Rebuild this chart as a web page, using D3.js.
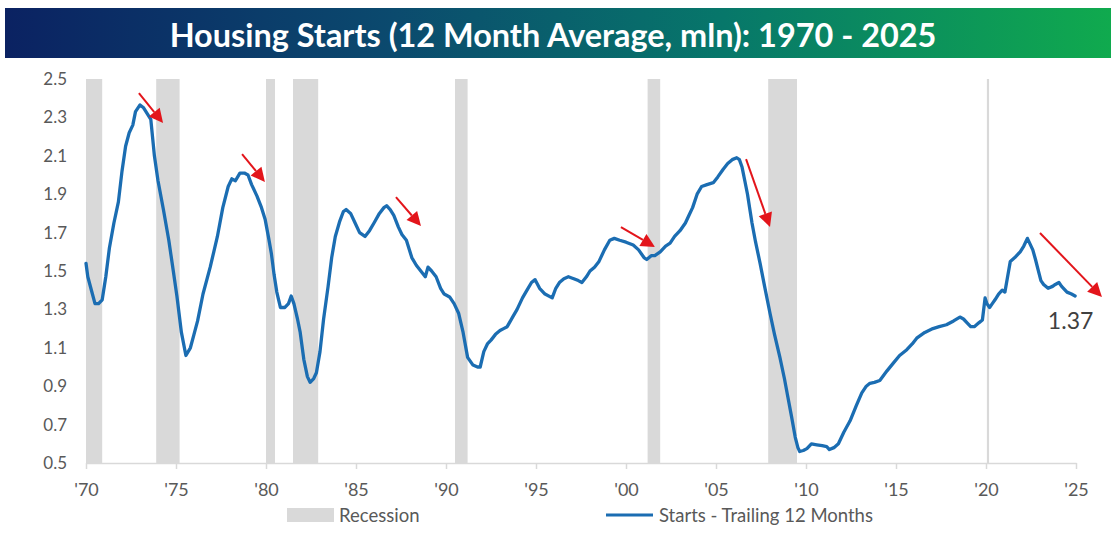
<!DOCTYPE html>
<html>
<head>
<meta charset="utf-8">
<script src="https://cdn.jsdelivr.net/npm/d3@7"></script>
<style>
  html, body { margin: 0; padding: 0; background: #ffffff; }
  svg { display: block; }
  text { font-family: Lato, "Open Sans", "Liberation Sans", sans-serif; }
</style>
</head>
<body>
<svg id="chart" width="1116" height="536"></svg>
<script>
// ---------------- DATA ----------------
const titleText = "Housing Starts (12 Month Average, mln): 1970 - 2025";

const years = [
  1970.0,1970.1,1970.3,1970.5,1970.7,1970.9,1971.1,1971.3,1971.55,1971.8,
  1972.0,1972.2,1972.4,1972.6,1972.75,1973.0,1973.2,1973.4,1973.6,1973.8,
  1974.0,1974.3,1974.6,1974.85,1975.05,1975.3,1975.55,1975.8,1976.0,1976.2,
  1976.5,1976.9,1977.1,1977.3,1977.6,1977.9,1978.1,1978.3,1978.55,1978.8,
  1979.0,1979.2,1979.5,1979.75,1979.95,1980.15,1980.3,1980.45,1980.6,1980.8,
  1981.05,1981.25,1981.4,1981.55,1981.75,1981.9,1982.1,1982.3,1982.45,1982.65,
  1982.8,1983.0,1983.2,1983.45,1983.65,1983.85,1984.1,1984.3,1984.45,1984.7,
  1984.95,1985.2,1985.5,1985.75,1986.0,1986.3,1986.55,1986.7,1986.9,1987.1,
  1987.35,1987.55,1987.8,1988.1,1988.35,1988.6,1988.85,1989.0,1989.2,1989.45,
  1989.7,1989.9,1990.2,1990.45,1990.7,1990.95,1991.2,1991.5,1991.75,1991.9,
  1992.1,1992.3,1992.5,1992.75,1993.0,1993.2,1993.4,1993.7,1993.95,1994.25,
  1994.5,1994.75,1994.95,1995.2,1995.5,1995.9,1996.1,1996.3,1996.55,1996.8,
  1997.1,1997.35,1997.55,1997.8,1998.0,1998.25,1998.5,1998.8,1999.1,1999.35,
  1999.65,2000.0,2000.4,2000.7,2001.0,2001.15,2001.4,2001.6,2001.9,2002.2,
  2002.45,2002.7,2003.0,2003.3,2003.5,2003.7,2003.95,2004.2,2004.5,2004.85,
  2005.1,2005.4,2005.65,2005.9,2006.15,2006.3,2006.45,2006.6,2006.75,2006.9,
  2007.0,2007.2,2007.45,2007.7,2008.0,2008.25,2008.55,2008.8,2009.0,2009.2,
  2009.4,2009.55,2009.65,2009.85,2010.05,2010.3,2010.6,2010.9,2011.15,2011.3,
  2011.55,2011.8,2012.1,2012.45,2012.8,2013.1,2013.35,2013.55,2013.8,2014.1,
  2014.5,2014.85,2015.2,2015.6,2015.9,2016.15,2016.6,2017.05,2017.4,2017.8,
  2018.2,2018.55,2018.75,2018.95,2019.15,2019.35,2019.6,2019.8,2019.95,2020.05,
  2020.2,2020.35,2020.5,2020.7,2020.9,2021.05,2021.2,2021.35,2021.6,2021.9,
  2022.1,2022.3,2022.45,2022.6,2022.75,2022.9,2023.05,2023.2,2023.45,2023.7,
  2023.85,2024.05,2024.2,2024.5,2024.75,2024.95
];

const starts = [
  1.54,1.47,1.40,1.33,1.33,1.35,1.47,1.62,1.75,1.86,
  2.02,2.15,2.22,2.26,2.33,2.365,2.35,2.32,2.29,2.10,
  1.97,1.82,1.66,1.50,1.37,1.18,1.06,1.10,1.17,1.24,
  1.38,1.52,1.60,1.68,1.83,1.94,1.98,1.97,2.01,2.01,
  2.00,1.95,1.89,1.83,1.77,1.67,1.59,1.48,1.39,1.31,
  1.31,1.33,1.37,1.33,1.25,1.18,1.04,0.95,0.92,0.94,
  0.97,1.08,1.25,1.42,1.57,1.68,1.76,1.81,1.82,1.80,
  1.75,1.70,1.68,1.71,1.75,1.80,1.83,1.84,1.82,1.79,
  1.73,1.69,1.66,1.57,1.53,1.50,1.47,1.52,1.50,1.47,
  1.41,1.38,1.365,1.33,1.28,1.18,1.05,1.01,1.00,1.00,
  1.08,1.12,1.14,1.17,1.19,1.20,1.21,1.26,1.30,1.36,
  1.40,1.44,1.455,1.41,1.38,1.36,1.41,1.44,1.46,1.47,
  1.46,1.45,1.44,1.47,1.50,1.52,1.55,1.61,1.66,1.67,
  1.66,1.65,1.635,1.61,1.57,1.56,1.58,1.58,1.60,1.63,
  1.645,1.68,1.71,1.75,1.79,1.83,1.90,1.94,1.95,1.96,
  1.99,2.03,2.06,2.08,2.09,2.08,2.04,1.97,1.90,1.81,
  1.75,1.65,1.54,1.42,1.28,1.17,1.05,0.94,0.84,0.74,
  0.635,0.58,0.56,0.565,0.575,0.60,0.595,0.59,0.585,0.57,
  0.58,0.60,0.66,0.72,0.80,0.865,0.90,0.915,0.92,0.93,
  0.98,1.02,1.06,1.09,1.12,1.15,1.18,1.20,1.21,1.22,
  1.24,1.26,1.25,1.23,1.21,1.21,1.23,1.245,1.36,1.33,
  1.31,1.33,1.35,1.38,1.40,1.39,1.47,1.55,1.57,1.60,
  1.63,1.67,1.64,1.61,1.56,1.505,1.45,1.43,1.41,1.42,
  1.43,1.44,1.42,1.39,1.38,1.37
];

// NBER recessions (decimal years)
const recessionStart = [1970.0, 1973.9, 1980.0, 1981.5, 1990.5, 2001.2, 2007.9, 2020.05];
const recessionEnd   = [1970.9, 1975.2, 1980.5, 1982.9, 1991.2, 2001.9, 2009.5, 2020.17];

const xTickYears = [1970,1975,1980,1985,1990,1995,2000,2005,2010,2015,2020,2025];
const xTickLabels = ["'70","'75","'80","'85","'90","'95","'00","'05","'10","'15","'20","'25"];
const yTickValues = [0.5,0.7,0.9,1.1,1.3,1.5,1.7,1.9,2.1,2.3,2.5];

// red trend arrows (data coordinates)
const arrowFromYear = [1972.94, 1978.67, 1987.22, 1999.72, 2006.67, 2023.0];
const arrowFromVal  = [2.427, 2.109, 1.885, 1.729, 2.083, 1.698];
const arrowToYear   = [1974.28, 1979.94, 1988.61, 2001.61, 2008.0, 2026.44];
const arrowToVal    = [2.271, 1.964, 1.734, 1.625, 1.729, 1.365];

const lastLabel = "1.37";
const lastLabelYear = 2024.7;
const lastLabelVal = 1.245;

const legendRecession = "Recession";
const legendStarts = "Starts - Trailing 12 Months";

// ---------------- CHART ----------------
const svg = d3.select("#chart");

const x = d3.scaleLinear().domain([1970, 2025]).range([86, 1076]);
const y = d3.scaleLinear().domain([0.5, 2.5]).range([463, 79]);

// Title bar
const defs = svg.append("defs");
const grad = defs.append("linearGradient").attr("id", "tgrad")
  .attr("x1", "0%").attr("x2", "100%").attr("y1", "0%").attr("y2", "0%");
grad.append("stop").attr("offset", "0%").attr("stop-color", "#0b2262");
grad.append("stop").attr("offset", "35%").attr("stop-color", "#0b4a6e");
grad.append("stop").attr("offset", "65%").attr("stop-color", "#07776a");
grad.append("stop").attr("offset", "100%").attr("stop-color", "#10aa4e");

svg.append("rect").attr("x", 5).attr("y", 8).attr("width", 1106).attr("height", 50)
  .attr("fill", "url(#tgrad)");

const title = svg.append("text")
  .attr("x", 553).attr("y", 34)
  .attr("text-anchor", "middle").attr("dominant-baseline", "central")
  .attr("fill", "#ffffff").attr("font-weight", "700")
  .attr("font-size", 30).text(titleText);
{
  const len = title.node().getComputedTextLength();
  title.attr("font-size", 30 * 767 / len);
}

// Recession bands
const bandData = recessionStart.map((s, i) => ({ s, e: recessionEnd[i] }));
svg.append("g").selectAll("rect").data(bandData).join("rect")
  .attr("x", d => x(d.s))
  .attr("width", d => Math.max(2, x(d.e) - x(d.s)))
  .attr("y", y(2.5))
  .attr("height", y(0.5) - y(2.5))
  .attr("fill", "#d9d9d9");

// X axis
const xAxis = d3.axisBottom(x)
  .tickValues(xTickYears)
  .tickFormat((d, i) => xTickLabels[i])
  .tickSize(6).tickSizeOuter(0).tickPadding(14);
const gx = svg.append("g").attr("transform", `translate(0,${y(0.5)})`).call(xAxis);
gx.select(".domain").attr("stroke", "#d9d9d9").attr("stroke-width", 1.5);
gx.selectAll(".tick line").attr("stroke", "#d9d9d9").attr("stroke-width", 1.5);
gx.selectAll(".tick text").attr("fill", "#595959").attr("font-size", 18)
  .attr("font-family", "Lato, 'Open Sans', sans-serif");

// Y axis (labels only)
const yAxis = d3.axisLeft(y).tickValues(yTickValues).tickFormat(d3.format(".1f"))
  .tickSize(0).tickPadding(0);
const gy = svg.append("g").attr("transform", "translate(67,0)").call(yAxis);
gy.select(".domain").remove();
gy.selectAll(".tick text").attr("fill", "#595959").attr("font-size", 17)
  .attr("font-family", "Lato, 'Open Sans', sans-serif");

// Line
const pts = years.map((t, i) => [t, starts[i]]);
const line = d3.line().x(d => x(d[0])).y(d => y(d[1]));
svg.append("path").datum(pts)
  .attr("d", line)
  .attr("fill", "none")
  .attr("stroke", "#1b6db2")
  .attr("stroke-width", 3.3)
  .attr("stroke-linejoin", "round")
  .attr("stroke-linecap", "round");

// Red arrows
const arrows = arrowFromYear.map((fy, i) => ({
  x1: x(fy), y1: y(arrowFromVal[i]), x2: x(arrowToYear[i]), y2: y(arrowToVal[i])
}));
const ag = svg.append("g");
arrows.forEach(a => {
  const dx = a.x2 - a.x1, dy = a.y2 - a.y1;
  const L = Math.hypot(dx, dy);
  const ux = dx / L, uy = dy / L;
  const headL = 14, headW = 7;
  const bx = a.x2 - ux * headL, by = a.y2 - uy * headL;
  ag.append("line").attr("x1", a.x1).attr("y1", a.y1).attr("x2", bx).attr("y2", by)
    .attr("stroke", "#e3151b").attr("stroke-width", 2);
  ag.append("path")
    .attr("d", `M${a.x2},${a.y2} L${bx - uy * headW},${by + ux * headW} L${bx + uy * headW},${by - ux * headW} Z`)
    .attr("fill", "#e3151b");
});

// Last value label
svg.append("text")
  .attr("x", x(lastLabelYear)).attr("y", y(lastLabelVal))
  .attr("text-anchor", "middle").attr("dominant-baseline", "central")
  .attr("fill", "#404040").attr("font-size", 23).text(lastLabel);

// Legend
const lg = svg.append("g");
lg.append("rect").attr("x", 287).attr("y", 508).attr("width", 47).attr("height", 14)
  .attr("fill", "#d9d9d9");
lg.append("text").attr("x", 339).attr("y", 515).attr("dominant-baseline", "central")
  .attr("fill", "#595959").attr("font-size", 18.5).text(legendRecession);
lg.append("line").attr("x1", 606).attr("x2", 653).attr("y1", 515).attr("y2", 515)
  .attr("stroke", "#1b6db2").attr("stroke-width", 3);
lg.append("text").attr("x", 659).attr("y", 515).attr("dominant-baseline", "central")
  .attr("fill", "#595959").attr("font-size", 18.5).text(legendStarts);
</script>
</body>
</html>
